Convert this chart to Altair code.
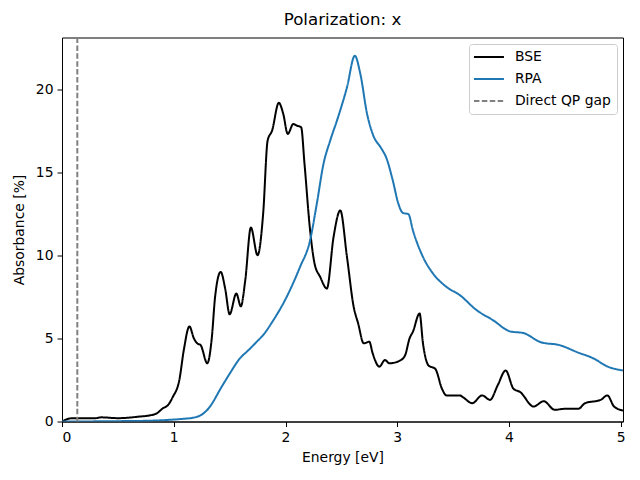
import altair as alt
import pandas as pd

# BSE absorbance
bse_energy = [0.0, 0.05, 0.1, 0.3, 0.35, 0.5, 0.7, 0.78, 0.85, 0.9, 0.95, 0.99, 1.05, 1.09, 1.14,
              1.18, 1.21, 1.24, 1.30, 1.34, 1.37, 1.42, 1.46, 1.50, 1.56, 1.60, 1.64, 1.69, 1.75,
              1.80, 1.84, 1.88, 1.94, 1.98, 2.02, 2.07, 2.10, 2.14, 2.17, 2.22, 2.26, 2.31, 2.37,
              2.43, 2.49, 2.55, 2.61, 2.65, 2.70, 2.75, 2.78, 2.84, 2.89, 2.93, 3.02, 3.07, 3.11,
              3.14, 3.20, 3.23, 3.28, 3.34, 3.40, 3.44, 3.56, 3.59, 3.67, 3.76, 3.83, 3.90, 3.97,
              4.04, 4.10, 4.22, 4.31, 4.41, 4.49, 4.62, 4.68, 4.82, 4.88, 4.94, 5.02]
bse_value = [0.0, 0.15, 0.2, 0.2, 0.25, 0.2, 0.3, 0.36, 0.5, 0.78, 1.0, 1.46, 2.5, 4.3, 5.72,
             5.0, 4.7, 4.6, 3.5, 5.0, 7.5, 9.0, 8.0, 6.45, 7.7, 6.93, 8.5, 11.67, 10.0,
             12.5, 16.9, 17.5, 19.17, 18.5, 17.3, 17.9, 17.8, 17.7, 15.5, 11.5, 9.5, 8.7, 8.0,
             11.1, 12.7, 9.9, 6.9, 5.9, 4.7, 4.8, 4.1, 3.3, 3.7, 3.5, 3.65, 3.98, 5.0,
             5.4, 6.5, 4.7, 3.37, 3.17, 1.97, 1.57, 1.57, 1.45, 1.1, 1.57, 1.3, 2.2, 3.07,
             1.97, 1.77, 0.9, 1.22, 0.7, 0.76, 0.76, 1.1, 1.3, 1.57, 0.9, 0.66]

# RPA absorbance
rpa_energy = [0.0, 0.5, 0.8, 0.96, 1.10, 1.17, 1.26, 1.32, 1.35, 1.41, 1.50, 1.59, 1.67, 1.74,
              1.80, 1.89, 2.01, 2.13, 2.22, 2.28, 2.34, 2.40, 2.47, 2.55, 2.62, 2.67, 2.73, 2.78,
              2.86, 2.90, 2.96, 3.01, 3.05, 3.10, 3.14, 3.23, 3.32, 3.44, 3.56, 3.71, 3.86, 4.01,
              4.13, 4.28, 4.46, 4.61, 4.76, 4.88, 5.02]
rpa_value = [0.0, 0.02, 0.05, 0.1, 0.17, 0.22, 0.46, 0.86, 1.16, 1.87, 2.87, 3.78, 4.3, 4.78,
             5.2, 6.08, 7.49, 9.3, 10.9, 13.1, 15.5, 16.9, 18.3, 20.1, 22.0, 20.9, 18.5, 17.3,
             16.4, 15.9, 14.5, 13.1, 12.55, 12.47, 11.5, 9.9, 8.9, 8.1, 7.6, 6.7, 6.08, 5.42,
             5.32, 4.78, 4.58, 4.17, 3.78, 3.31, 3.07]

qp_gap = [0.137]

series_names = ["BSE", "RPA", "Direct QP gap"]
series_colors = ["#000000", "#1f77b4", "#808080"]
series_dash = [[1, 0], [1, 0], [5.5, 2.4]]

lines_df = pd.concat([
    pd.DataFrame({"Energy": bse_energy, "Absorbance": bse_value, "series": "BSE"}),
    pd.DataFrame({"Energy": rpa_energy, "Absorbance": rpa_value, "series": "RPA"}),
], ignore_index=True)
gap_df = pd.DataFrame({"Energy": qp_gap, "series": "Direct QP gap"})

color = alt.Color("series:N", scale=alt.Scale(domain=series_names, range=series_colors),
                  legend=alt.Legend(title=None, orient="none", legendX=407, legendY=6.5,
                                    symbolType="M-1.6,0H4.4", symbolSize=100, symbolStrokeWidth=2,
                                    labelFontSize=13.9, labelFont="DejaVu Sans", labelColor="black",
                                    padding=6, rowPadding=7, labelOffset=26,
                                    strokeColor="#cccccc", fillColor="white", cornerRadius=3))
dash = alt.StrokeDash("series:N", scale=alt.Scale(domain=series_names, range=series_dash),
                      legend=None)

xscale = alt.Scale(domain=[0, 5.02], nice=False, zero=False)
yscale = alt.Scale(domain=[0, 23.1], nice=False)

lines = alt.Chart(lines_df).mark_line(strokeWidth=2, interpolate="monotone", clip=True).encode(
    x=alt.X("Energy:Q", scale=xscale, title="Energy [eV]",
            axis=alt.Axis(values=[0, 1, 2, 3, 4, 5], format="d", titlePadding=6)),
    y=alt.Y("Absorbance:Q", scale=yscale, title="Absorbance [%]",
            axis=alt.Axis(values=[0, 5, 10, 15, 20], format="d", titlePadding=9)),
    color=color,
    strokeDash=dash,
    detail="series:N",
)

gap = alt.Chart(gap_df).mark_rule(strokeWidth=2).encode(
    x="Energy:Q",
    color=color,
    strokeDash=dash,
)

chart = alt.layer(lines, gap).properties(
    width=561, height=384,
    title=alt.Title("Polarization: x", fontSize=16.67, fontWeight="normal", font="DejaVu Sans",
                    color="black", offset=8, anchor="middle"),
    autosize=alt.AutoSizeParams(type="none"),
    padding={"left": 54, "top": 29.5, "right": 9, "bottom": 51},
).configure_view(
    stroke="black", strokeWidth=1
).configure_axis(
    grid=False, domainColor="black", tickColor="black", tickSize=5,
    labelFont="DejaVu Sans", labelFontSize=13.9, labelColor="black", labelPadding=4,
    titleFont="DejaVu Sans", titleFontSize=13.9, titleFontWeight="normal", titleColor="black",
)

chart.save("out.html", embed_options={"renderer": "svg", "actions": False})
